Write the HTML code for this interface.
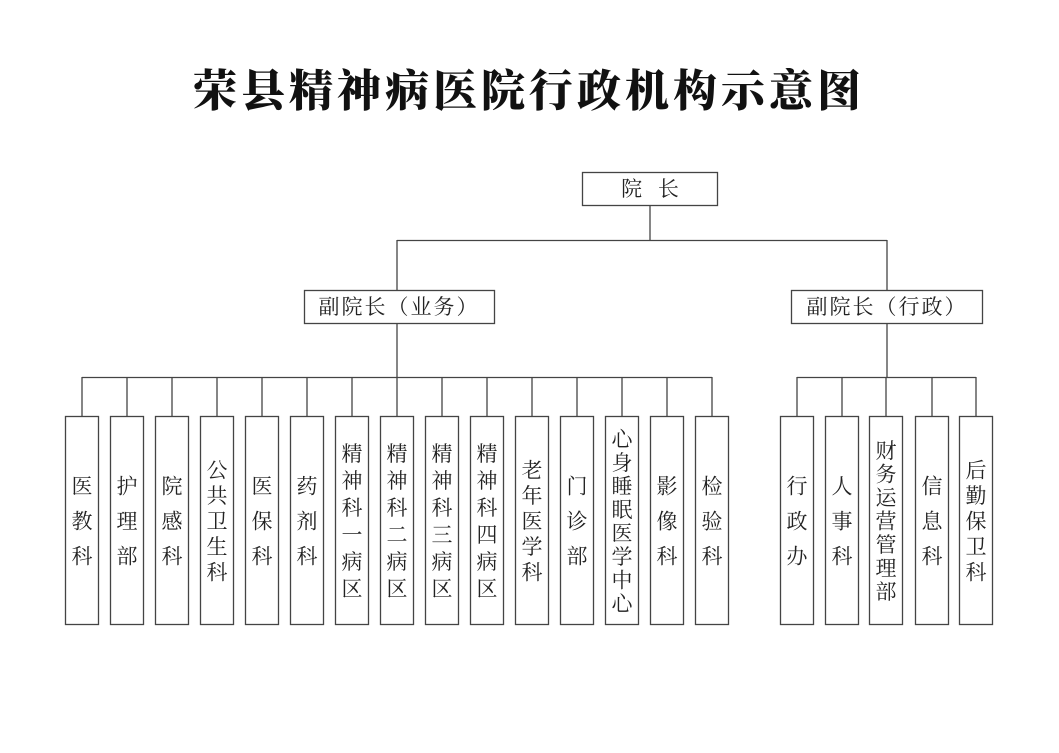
<!DOCTYPE html>
<html><head><meta charset="utf-8"><style>
body{margin:0;background:#fff}
svg text{font-family:"Liberation Serif","Noto Serif CJK SC",serif;fill:#222}
</style></head><body>
<svg width="1059" height="748" viewBox="0 0 1059 748" xmlns="http://www.w3.org/2000/svg">
<text x="529" y="106" text-anchor="middle" font-size="44" font-weight="900" letter-spacing="4" style="fill:#111">荣县精神病医院行政机构示意图</text>
<g stroke="#444" stroke-width="1.3" fill="none">
<rect x="582.5" y="172.5" width="135" height="33"/>
<line x1="650" y1="206" x2="650" y2="240"/>
<line x1="397" y1="240.5" x2="887" y2="240.5"/>
<line x1="397" y1="240" x2="397" y2="290"/>
<line x1="887" y1="240" x2="887" y2="290"/>
<rect x="304.5" y="290.5" width="190" height="33"/>
<rect x="791.5" y="290.5" width="191" height="33"/>
<line x1="397" y1="323" x2="397" y2="377"/>
<line x1="887" y1="323" x2="887" y2="377"/>
<line x1="82" y1="377.5" x2="712" y2="377.5"/>
<line x1="797" y1="377.5" x2="976" y2="377.5"/>
</g>
<text x="650" y="196" text-anchor="middle" font-size="21" xml:space="preserve">院   长</text>
<text x="399" y="314" text-anchor="middle" font-size="21" letter-spacing="2">副院长（业务）</text>
<text x="887" y="314" text-anchor="middle" font-size="21" letter-spacing="2">副院长（行政）</text>
<g id="cols"></g>
</svg>
<script>
var items=[[82,"医教科"],[127,"护理部"],[172,"院感科"],[217,"公共卫生科"],[262,"医保科"],[307,"药剂科"],[352,"精神科一病区"],[397,"精神科二病区"],[442,"精神科三病区"],[487,"精神科四病区"],[532,"老年医学科"],[577,"门诊部"],[622,"心身睡眠医学中心"],[667,"影像科"],[712,"检验科"],
[797,"行政办"],[842,"人事科"],[886,"财务运营管理部"],[932,"信息科"],[976,"后勤保卫科"]];
var g=document.getElementById("cols"),h="";
items.forEach(function(it){var cx=it[0],s=it[1],n=s.length;
h+='<line x1="'+cx+'" y1="377" x2="'+cx+'" y2="416" stroke="#444" stroke-width="1.3"/>';
h+='<rect x="'+(cx-16.5)+'" y="416.5" width="33" height="208" stroke="#444" stroke-width="1.3" fill="none"/>';
var p=n<=3?35:(n<=5?25.5:(n==6?27:23.5));
var y0=521-(n-1)*p/2;
for(var i=0;i<n;i++){h+='<text x="'+cx+'" y="'+(y0+i*p+7.5)+'" text-anchor="middle" font-size="21">'+s[i]+'</text>';}
});
g.innerHTML=h;
</script>
</body></html>
